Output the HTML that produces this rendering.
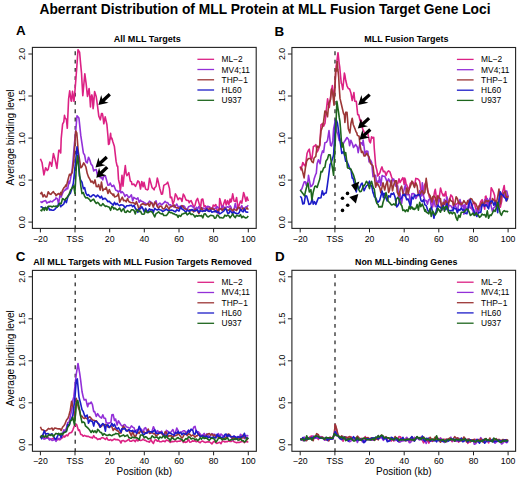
<!DOCTYPE html>
<html><head><meta charset="utf-8"><style>
html,body{margin:0;padding:0;background:#fff;}
body{width:520px;height:477px;overflow:hidden;}
svg{display:block;}
text{font-family:"Liberation Sans",sans-serif;fill:#000;}
.b{font-weight:bold;}
</style></head><body>
<svg width="520" height="477" viewBox="0 0 520 477">
<rect x="0" y="0" width="520" height="477" fill="#fff"/>
<text class="b" x="39.5" y="13.8" font-size="13.8" textLength="451" lengthAdjust="spacingAndGlyphs">Aberrant Distribution of MLL Protein at MLL Fusion Target Gene Loci</text>

<text class="b" x="113.8" y="41.5" font-size="9" textLength="67" lengthAdjust="spacingAndGlyphs">All MLL Targets</text>
<text class="b" x="16.0" y="35.0" font-size="13.4">A</text>
<line x1="75.2" y1="229.05" x2="75.2" y2="47.4" stroke="#1a1a1a" stroke-width="1.2" stroke-dasharray="3.8 4.48"/>
<polyline points="40.4,158.7 42.1,162.8 43.0,169.0 43.9,174.9 45.6,167.8 47.3,170.5 48.2,169.3 49.8,162.1 50.8,163.3 51.7,166.2 53.4,153.5 55.0,159.2 56.0,164.0 56.9,168.4 58.8,150.2 59.9,150.4 60.7,152.9 61.2,138.7 62.6,124.1 63.8,121.8 64.5,115.3 65.1,118.0 66.4,119.4 67.3,128.3 68.6,99.0 69.7,90.9 70.3,94.9 71.1,101.0 71.6,101.1 72.5,91.3 74.0,101.3 75.2,88.0 76.8,67.2 78.0,49.8 79.6,52.2 80.7,64.6 81.5,72.8 82.0,82.1 82.8,95.6 84.8,73.7 86.1,83.3 87.5,96.4 88.5,91.5 89.1,88.5 89.8,96.8 90.5,106.9 91.1,96.9 91.9,94.9 92.4,97.4 93.1,108.7 93.7,103.8 94.6,91.6 96.2,96.5 97.6,106.5 98.8,116.1 100.3,119.8 101.5,113.6 102.3,113.5 102.8,115.7 103.8,123.8 105.2,116.9 106.9,124.5 108.0,136.8 108.5,144.5 109.3,143.8 110.6,133.3 111.1,138.8 111.9,138.2 112.8,141.5 114.4,146.6 116.1,161.4 117.1,166.0 117.7,166.0 118.5,179.4 119.7,184.6 120.3,190.7 121.0,186.0 122.0,175.4 123.0,186.1 123.6,179.6 125.3,165.5 126.2,173.7 127.0,175.6 128.8,172.6 130.3,181.1 131.4,181.7 132.0,184.5 132.7,184.5 133.8,184.0 135.5,186.4 136.6,184.0 137.9,180.9 139.2,182.1 140.5,189.0 141.8,181.5 143.1,186.8 144.0,182.3 145.6,189.1 147.3,189.9 148.2,189.1 149.5,178.3 150.6,182.1 152.1,187.6 153.4,188.8 154.1,189.8 154.7,187.8 156.0,186.5 157.3,178.0 158.2,181.5 159.9,188.9 161.5,194.2 162.5,194.0 163.8,185.4 165.0,184.6 166.4,183.9 167.7,182.1 169.5,188.6 170.3,197.8 171.6,197.2 172.9,204.2 174.2,200.4 175.4,193.9 176.8,196.2 178.1,199.7 179.4,198.0 180.0,198.5 180.7,198.3 182.0,201.4 183.3,194.1 184.5,196.0 185.9,199.7 187.2,200.5 188.5,200.5 189.2,202.8 189.8,201.7 191.1,200.6 192.4,203.6 193.7,207.3 195.0,205.4 196.2,200.7 197.6,198.4 198.9,202.9 200.2,207.6 200.8,205.9 201.5,199.5 202.8,199.0 204.1,206.6 205.4,205.8 206.7,210.3 207.8,206.5 209.3,206.8 210.6,207.9 212.3,209.2 213.2,205.1 214.5,206.0 215.8,204.5 217.1,210.2 218.4,213.6 219.2,208.8 219.7,198.5 221.0,203.1 222.3,209.3 223.6,203.9 225.1,199.8 226.2,205.0 227.5,200.5 228.8,204.7 230.1,199.0 230.8,202.1 231.4,201.2 232.7,193.9 234.0,200.9 235.5,201.4 236.6,197.5 237.9,207.1 238.9,205.8 240.5,201.0 241.8,203.2 243.1,195.6 243.6,192.5 244.4,195.0 245.9,201.3 247.0,197.1 248.3,200.9" fill="none" stroke="#dc2184" stroke-width="1.6" stroke-linejoin="round"/>
<polyline points="40.4,201.3 41.7,202.5 43.0,201.5 44.3,201.0 45.6,200.5 46.9,203.1 48.2,202.1 49.5,202.1 50.4,201.1 52.1,201.9 53.4,200.7 54.7,199.6 55.5,199.2 56.0,197.9 57.3,198.6 58.6,203.8 59.9,195.6 60.7,196.1 61.2,197.1 62.5,193.4 63.8,191.2 65.1,189.9 65.7,190.0 66.4,188.1 67.7,188.9 69.0,181.2 69.5,183.4 70.3,179.9 71.6,173.2 72.1,170.6 72.9,162.0 74.5,143.0 75.5,133.6 77.0,115.7 78.1,117.0 78.9,118.0 79.4,122.3 80.8,135.7 82.0,143.6 83.4,153.1 84.6,155.0 85.9,161.9 87.2,163.0 88.5,157.2 89.8,160.1 91.0,164.1 92.4,165.6 93.7,171.0 94.8,169.9 96.3,169.6 97.6,176.1 98.6,172.1 100.2,177.6 101.5,177.5 102.8,179.8 103.6,176.3 105.4,176.1 106.2,178.8 108.0,185.3 109.3,184.9 110.2,183.0 111.9,186.5 113.2,185.7 113.7,185.2 114.5,187.1 115.8,190.2 117.0,190.6 118.4,192.1 119.7,190.5 121.0,192.9 122.0,191.6 123.6,193.3 124.9,196.4 126.2,194.8 127.0,194.9 128.8,197.7 130.1,196.6 131.4,194.8 132.7,200.9 133.8,197.4 135.3,198.4 136.6,199.1 137.9,197.9 139.2,202.3 140.5,200.2 141.4,201.2 143.1,201.8 144.3,202.7 145.6,203.5 146.9,204.4 148.2,203.2 148.9,202.3 149.5,201.1 150.8,202.1 152.1,202.9 153.4,205.1 154.7,203.7 156.0,200.8 157.3,206.3 158.6,204.2 159.9,203.1 161.7,205.0 162.5,204.1 163.8,202.9 165.1,201.3 166.4,202.7 167.7,202.6 169.0,204.9 170.3,204.7 171.6,205.8 172.9,206.0 174.2,207.3 175.5,205.8 176.8,204.1 178.1,206.7 179.0,206.9 180.7,206.0 182.0,206.9 183.3,205.7 184.6,206.5 185.9,209.3 187.2,209.7 188.5,206.7 189.8,206.2 191.1,205.5 192.4,206.8 193.7,207.3 195.0,210.4 196.3,207.3 197.6,208.8 198.9,206.5 200.2,209.4 201.5,209.5 202.8,207.9 204.1,208.5 205.4,209.2 206.7,206.7 208.0,206.4 209.3,206.9 210.6,208.3 211.9,209.4 213.6,208.2 214.5,208.9 215.8,208.1 217.1,206.6 218.4,207.8 219.7,209.2 221.0,209.2 222.3,206.0 223.6,207.0 224.9,207.4 226.2,207.3 227.5,206.7 228.8,207.4 230.1,205.8 231.0,207.2 232.7,212.4 234.0,209.5 235.3,203.5 236.6,209.3 237.9,208.8 239.6,208.0 240.5,207.9 241.8,205.7 243.1,209.1 244.8,207.9 245.7,207.0 247.0,206.5 248.3,205.2" fill="none" stroke="#9330d8" stroke-width="1.6" stroke-linejoin="round"/>
<polyline points="40.4,194.3 41.7,192.3 43.0,196.9 44.3,194.7 45.6,196.9 46.9,196.9 48.2,191.8 49.5,193.7 50.8,194.4 52.1,192.8 53.4,191.6 54.7,193.8 55.5,193.9 56.0,195.8 57.3,194.5 58.6,193.5 59.9,194.7 60.7,192.4 61.2,194.9 62.5,190.3 63.8,187.9 65.1,186.7 65.7,185.1 66.4,186.1 67.7,180.8 69.0,175.9 69.5,174.3 70.3,175.3 71.6,173.2 72.1,172.9 72.9,167.4 73.8,161.2 75.7,131.0 76.8,132.8 78.2,151.1 79.4,158.8 80.8,167.8 82.0,166.7 83.7,162.9 84.6,164.3 85.9,167.0 87.2,173.3 88.5,177.0 89.8,179.2 91.1,182.1 92.2,181.2 93.7,183.5 95.0,179.9 96.3,186.5 97.6,186.8 98.6,184.5 100.2,190.1 101.5,182.0 102.8,190.7 104.1,189.1 105.4,189.3 106.2,187.3 108.0,193.4 109.3,189.6 110.6,192.9 111.9,193.7 113.2,195.5 113.7,194.0 114.5,196.9 115.8,196.5 117.1,195.9 118.4,193.6 119.7,202.2 121.3,198.8 122.3,197.1 123.6,200.6 124.9,200.3 126.2,201.8 127.5,198.6 128.8,201.5 130.1,202.4 131.4,202.7 132.7,202.8 134.0,202.9 135.3,204.4 136.4,201.6 137.9,205.6 139.2,210.8 140.5,205.4 141.8,204.2 143.1,203.5 144.3,204.6 145.6,205.0 146.9,204.4 148.2,203.3 148.9,205.4 149.5,206.2 150.8,202.2 152.1,203.7 153.4,207.1 154.7,202.1 156.0,203.4 157.3,206.5 158.6,208.2 159.9,206.0 161.7,206.6 162.5,208.4 163.8,209.0 165.1,207.9 166.4,204.9 167.7,207.0 169.0,209.5 170.3,206.5 171.6,206.7 172.9,205.8 174.2,205.0 175.5,207.3 176.8,207.9 178.1,207.9 179.0,208.5 180.7,207.3 182.0,205.6 183.3,207.4 184.6,208.7 185.9,209.0 187.2,210.0 188.5,210.4 189.8,209.8 191.1,210.5 192.4,210.2 193.7,211.9 195.0,209.4 196.3,209.4 197.6,211.3 198.9,213.6 200.2,210.4 201.5,207.7 202.8,210.2 204.1,210.6 205.4,210.6 206.7,208.7 208.0,210.7 209.3,208.3 210.6,209.6 211.9,208.1 213.6,209.3 214.5,209.8 215.8,211.9 217.1,211.2 218.4,210.2 219.7,208.5 221.0,208.8 222.3,210.5 223.6,209.1 224.9,207.8 226.2,209.3 227.5,210.2 228.8,210.3 230.1,208.4 231.0,209.1 232.7,210.7 234.0,209.1 235.3,209.9 236.6,210.6 237.9,207.5 239.2,207.3 240.5,209.9 241.8,209.1 243.1,208.1 244.4,209.7 245.7,209.2 247.0,207.7 248.3,209.6" fill="none" stroke="#9c3636" stroke-width="1.6" stroke-linejoin="round"/>
<polyline points="40.4,207.0 41.7,206.7 43.0,208.3 44.3,207.9 45.6,208.2 46.9,208.0 48.2,206.8 49.5,209.9 50.8,209.6 52.1,210.2 53.4,210.3 54.7,209.3 55.5,208.6 56.0,207.8 57.3,206.9 58.6,203.8 59.9,204.5 60.7,206.8 61.2,205.9 62.5,205.2 63.8,204.0 65.1,199.9 65.7,201.0 66.4,202.6 67.7,197.4 69.0,194.9 69.5,194.3 70.3,193.4 71.6,189.5 73.3,183.5 74.2,175.1 75.4,163.3 77.0,146.9 78.0,153.2 79.4,176.0 80.7,180.2 82.0,182.2 83.4,188.8 84.6,187.5 85.9,193.2 87.2,195.4 88.4,194.6 89.8,196.4 91.1,196.7 92.4,195.2 93.7,194.7 95.0,196.0 96.0,197.0 97.6,195.1 98.9,196.3 100.2,198.0 101.5,196.2 102.8,199.4 103.6,198.6 105.4,198.4 106.7,200.0 108.0,201.8 109.3,201.3 110.6,203.0 111.4,203.2 113.2,205.2 114.5,202.3 115.8,204.7 117.1,203.3 118.4,204.9 119.7,205.7 121.0,204.7 122.3,205.0 123.6,205.5 124.9,207.9 126.2,206.4 127.0,205.7 128.8,205.6 130.1,205.4 131.4,205.0 132.7,206.7 134.0,205.3 135.7,209.1 136.6,209.5 137.9,212.3 139.2,208.6 140.5,208.6 141.8,206.7 143.1,209.0 144.3,212.0 145.6,208.3 146.9,210.7 148.2,211.6 148.9,209.7 149.5,208.8 150.8,210.1 152.1,209.6 153.4,212.2 154.7,208.2 156.0,209.5 157.3,209.9 158.6,209.3 159.9,209.8 161.7,210.2 162.5,211.5 163.8,210.9 165.1,210.0 166.4,209.1 167.7,210.4 169.0,210.6 170.3,210.3 171.6,210.0 172.9,210.4 174.2,211.2 175.5,211.7 176.8,209.8 178.1,210.4 179.0,211.1 180.7,206.8 182.0,209.0 183.3,209.8 184.6,210.7 185.9,212.4 187.2,210.1 188.5,210.9 189.8,211.1 191.1,209.9 192.4,209.6 193.7,210.5 195.0,211.1 196.3,210.2 197.6,209.9 198.9,212.4 200.2,210.7 201.5,211.0 202.8,211.4 204.1,210.7 205.4,211.1 206.7,209.1 208.0,210.9 209.3,211.4 210.6,210.3 211.9,212.3 213.6,211.6 214.5,211.8 215.8,210.6 217.1,212.7 218.4,211.8 219.7,213.9 221.0,213.1 222.3,212.1 223.6,211.4 224.9,209.4 226.2,209.1 227.5,213.1 228.8,213.4 230.1,210.7 231.0,211.7 232.7,213.6 234.0,211.8 235.3,213.3 236.6,213.4 237.9,213.8 239.2,212.7 240.5,209.3 241.8,210.9 243.1,212.0 244.4,208.9 245.7,211.8 247.0,212.3 248.3,212.1" fill="none" stroke="#1c1cc8" stroke-width="1.6" stroke-linejoin="round"/>
<polyline points="40.4,210.0 41.7,210.8 43.0,207.7 44.3,210.5 45.6,207.3 46.9,210.2 48.2,206.2 49.5,206.3 50.8,206.3 52.1,207.0 53.4,206.1 54.7,206.5 55.5,206.5 56.0,205.9 57.3,207.0 58.6,205.6 59.9,203.1 60.7,203.5 61.2,203.7 62.5,198.5 63.8,199.5 65.1,200.1 65.7,198.6 66.4,198.3 67.7,196.5 69.0,194.4 70.7,189.7 71.6,188.8 72.9,187.1 73.7,185.9 74.2,189.0 74.9,193.5 75.5,182.8 76.4,165.4 77.5,155.9 78.1,161.3 78.9,168.2 79.4,172.6 80.8,186.0 82.0,193.6 83.3,192.5 84.6,196.3 85.9,198.0 87.2,197.6 88.5,198.7 89.8,199.8 90.6,201.3 92.4,199.8 93.7,199.2 95.0,201.8 96.3,203.5 97.6,202.3 98.6,203.3 100.2,205.5 101.5,205.6 102.8,203.6 104.1,205.2 105.4,206.4 106.2,206.1 108.0,206.7 109.3,207.2 110.6,210.3 111.9,206.3 113.2,207.6 113.7,209.0 114.5,208.0 115.8,208.8 117.1,210.0 118.4,209.4 119.7,208.1 121.3,211.5 122.3,209.8 123.6,208.6 124.9,212.2 126.2,212.4 127.5,210.5 128.8,211.8 130.1,212.2 131.4,209.8 132.7,209.8 134.0,210.5 135.3,213.9 136.6,209.5 137.9,210.5 139.2,211.6 140.5,211.2 141.8,214.0 143.1,214.3 144.3,214.0 145.6,210.0 146.9,212.4 148.2,212.6 148.9,212.2 149.5,211.5 150.8,211.5 152.1,212.0 153.4,214.1 154.7,216.9 156.0,213.7 157.3,212.8 158.6,211.8 159.9,213.2 161.7,214.0 162.5,213.4 163.8,215.5 165.1,215.5 166.4,215.4 167.7,213.9 169.0,211.6 170.3,212.6 171.6,212.6 172.9,213.6 174.2,213.9 175.5,214.8 176.8,214.9 178.1,217.3 179.0,215.3 180.7,216.4 182.0,214.1 183.3,213.8 184.6,213.3 185.9,212.8 187.2,214.8 188.5,213.9 189.8,212.6 191.1,214.6 192.4,214.0 193.7,215.1 195.0,217.1 196.3,215.5 197.6,216.3 198.9,215.6 200.2,216.0 201.5,215.4 202.8,217.9 204.1,214.1 205.4,213.8 206.7,215.9 208.0,217.0 209.3,216.2 210.6,215.3 211.9,215.5 213.6,216.0 214.5,218.2 215.8,218.0 217.1,215.1 218.4,215.6 219.7,217.8 221.0,217.6 222.3,218.0 223.6,217.7 224.9,215.2 226.2,216.1 227.5,215.1 228.8,215.7 230.1,217.8 231.0,216.6 232.7,213.9 234.0,216.4 235.3,217.6 236.6,215.2 237.9,215.8 239.2,216.2 240.5,214.6 241.8,217.7 243.1,216.2 244.4,217.3 245.7,218.0 247.0,217.5 248.3,215.9" fill="none" stroke="#1d661d" stroke-width="1.6" stroke-linejoin="round"/>
<rect x="32.4" y="47.4" width="223.8" height="181.0" fill="none" stroke="#222" stroke-width="1.1"/>
<line x1="28.4" y1="222.1" x2="32.4" y2="222.1" stroke="#222" stroke-width="1"/>
<text transform="translate(25.1,222.1) rotate(-90)" text-anchor="middle" font-size="8.7">0.0</text>
<line x1="28.4" y1="180.1" x2="32.4" y2="180.1" stroke="#222" stroke-width="1"/>
<text transform="translate(25.1,180.1) rotate(-90)" text-anchor="middle" font-size="8.7">0.5</text>
<line x1="28.4" y1="138.1" x2="32.4" y2="138.1" stroke="#222" stroke-width="1"/>
<text transform="translate(25.1,138.1) rotate(-90)" text-anchor="middle" font-size="8.7">1.0</text>
<line x1="28.4" y1="96.0" x2="32.4" y2="96.0" stroke="#222" stroke-width="1"/>
<text transform="translate(25.1,96.0) rotate(-90)" text-anchor="middle" font-size="8.7">1.5</text>
<line x1="28.4" y1="54.0" x2="32.4" y2="54.0" stroke="#222" stroke-width="1"/>
<text transform="translate(25.1,54.0) rotate(-90)" text-anchor="middle" font-size="8.7">2.0</text>
<line x1="40.4" y1="228.4" x2="40.4" y2="232.4" stroke="#222" stroke-width="1"/>
<text x="40.4" y="241.5" text-anchor="middle" font-size="8.7">−20</text>
<line x1="75.0" y1="228.4" x2="75.0" y2="232.4" stroke="#222" stroke-width="1"/>
<text x="75.0" y="241.5" text-anchor="middle" font-size="8.7">TSS</text>
<line x1="109.7" y1="228.4" x2="109.7" y2="232.4" stroke="#222" stroke-width="1"/>
<text x="109.7" y="241.5" text-anchor="middle" font-size="8.7">20</text>
<line x1="144.3" y1="228.4" x2="144.3" y2="232.4" stroke="#222" stroke-width="1"/>
<text x="144.3" y="241.5" text-anchor="middle" font-size="8.7">40</text>
<line x1="179.0" y1="228.4" x2="179.0" y2="232.4" stroke="#222" stroke-width="1"/>
<text x="179.0" y="241.5" text-anchor="middle" font-size="8.7">60</text>
<line x1="213.6" y1="228.4" x2="213.6" y2="232.4" stroke="#222" stroke-width="1"/>
<text x="213.6" y="241.5" text-anchor="middle" font-size="8.7">80</text>
<line x1="248.3" y1="228.4" x2="248.3" y2="232.4" stroke="#222" stroke-width="1"/>
<text x="248.3" y="241.5" text-anchor="middle" font-size="8.7">100</text>
<line x1="197.4" y1="59.3" x2="214.1" y2="59.3" stroke="#dc2184" stroke-width="1.3"/>
<text x="221.6" y="62.2" font-size="8.4">ML−2</text>
<line x1="197.4" y1="69.5" x2="214.1" y2="69.5" stroke="#9330d8" stroke-width="1.3"/>
<text x="221.6" y="72.5" font-size="8.4">MV4;11</text>
<line x1="197.4" y1="79.8" x2="214.1" y2="79.8" stroke="#9c3636" stroke-width="1.3"/>
<text x="221.6" y="82.7" font-size="8.4">THP−1</text>
<line x1="197.4" y1="90.0" x2="214.1" y2="90.0" stroke="#1c1cc8" stroke-width="1.3"/>
<text x="221.6" y="93.0" font-size="8.4">HL60</text>
<line x1="197.4" y1="100.3" x2="214.1" y2="100.3" stroke="#1d661d" stroke-width="1.3"/>
<text x="221.6" y="103.2" font-size="8.4">U937</text>
<text transform="translate(14.4,137.4) rotate(-90)" text-anchor="middle" font-size="10" textLength="96" lengthAdjust="spacingAndGlyphs">Average binding level</text>
<text class="b" x="364.2" y="41.5" font-size="9" textLength="84.3" lengthAdjust="spacingAndGlyphs">MLL Fusion Targets</text>
<text class="b" x="274.5" y="35.5" font-size="13.4">B</text>
<line x1="335.0" y1="229.05" x2="335.0" y2="47.5" stroke="#1a1a1a" stroke-width="1.2" stroke-dasharray="3.8 4.48"/>
<polyline points="300.2,166.5 301.1,169.9 302.8,162.5 304.5,165.5 305.4,166.0 307.1,153.2 308.3,150.5 309.3,149.1 310.9,159.4 311.9,159.0 313.4,146.4 314.9,145.8 315.8,144.7 317.2,151.9 318.4,149.6 319.8,145.5 321.0,124.9 322.2,123.7 323.6,126.2 325.0,123.1 326.2,111.0 327.6,98.9 328.8,105.7 329.3,107.4 330.1,100.9 331.2,92.1 332.4,85.5 334.0,99.9 335.3,80.7 336.1,66.4 336.6,63.7 338.0,52.7 339.2,63.5 339.7,66.8 340.5,75.5 341.3,83.4 341.8,84.1 342.8,89.5 344.4,73.1 344.9,75.2 345.7,80.3 347.0,85.8 348.3,88.5 349.6,89.1 350.9,92.9 352.2,100.5 353.9,92.6 354.8,101.1 356.3,101.4 357.7,114.6 358.7,114.8 360.1,120.8 361.3,120.4 362.6,128.9 364.1,131.8 365.2,133.6 366.9,131.7 367.8,133.3 369.5,141.6 370.4,142.9 371.6,136.7 373.0,138.1 373.7,137.3 374.3,148.7 375.7,165.7 376.9,170.4 377.8,176.0 379.9,172.8 380.8,169.6 382.0,166.9 383.4,171.7 384.1,171.2 384.7,171.2 386.1,175.4 387.3,172.1 388.6,170.9 389.9,171.8 391.5,176.8 392.5,179.2 393.8,180.4 394.6,181.8 396.4,183.3 397.7,183.9 399.0,178.7 400.0,182.6 401.9,179.1 402.9,177.6 404.2,184.5 404.7,178.0 405.4,179.9 406.1,184.1 406.7,184.8 408.1,189.1 409.3,187.9 410.4,183.2 411.9,182.6 412.6,181.8 413.2,182.7 414.5,186.4 415.8,178.4 417.3,178.8 418.4,179.4 419.7,181.2 420.8,189.6 422.3,194.9 423.6,191.8 424.2,186.1 424.9,184.4 426.2,181.2 427.7,189.5 428.8,194.8 430.0,199.1 431.4,198.5 432.7,207.0 434.0,195.1 434.6,191.7 435.3,189.3 436.6,199.6 437.9,200.5 439.1,198.7 440.5,188.0 441.8,192.5 443.1,195.8 443.8,194.3 444.4,196.0 445.7,191.6 447.0,201.3 448.5,203.1 449.6,199.4 450.9,194.9 452.2,196.5 453.0,199.4 453.5,207.0 454.8,205.3 456.1,204.5 457.7,203.2 458.7,201.4 460.0,204.7 461.3,202.5 462.4,205.4 463.9,206.4 465.2,204.9 466.9,204.0 467.8,201.7 469.1,206.6 470.4,207.5 471.5,208.6 473.0,203.4 474.3,202.2 475.6,208.3 476.2,209.8 476.9,212.9 478.2,207.7 479.5,205.0 480.7,201.8 482.1,199.6 483.4,203.4 484.7,209.2 485.4,196.6 486.0,196.0 487.3,205.3 488.6,200.9 490.1,203.2 491.2,187.7 492.5,190.1 493.8,192.9 494.6,195.4 495.1,205.4 496.4,201.6 497.7,207.5 499.3,204.4 500.3,207.2 501.6,201.6 502.7,191.6 504.2,185.5 505.5,197.8 507.2,198.0 508.1,195.3" fill="none" stroke="#dc2184" stroke-width="1.6" stroke-linejoin="round"/>
<polyline points="300.2,190.8 301.9,188.7 302.8,186.1 304.2,181.9 305.4,181.9 306.3,185.4 308.0,180.8 308.5,175.3 309.3,179.9 310.6,186.6 311.5,186.3 313.2,183.8 314.1,179.1 315.8,174.1 316.3,173.4 317.1,163.7 318.4,159.7 320.1,163.6 321.0,156.2 322.5,150.9 323.6,152.4 324.9,142.7 326.4,142.3 327.5,140.4 329.0,130.6 330.5,145.1 331.4,146.0 332.8,140.9 333.6,128.8 335.4,120.2 336.9,132.0 337.9,134.2 339.2,140.5 340.5,139.1 341.8,142.9 343.1,144.1 344.4,141.5 345.2,140.5 347.0,137.5 348.7,139.7 349.6,145.7 350.9,140.2 352.2,143.3 353.5,147.4 354.8,145.8 355.6,144.5 357.4,147.3 358.2,152.6 360.0,142.9 361.3,142.7 362.6,145.1 363.1,140.0 363.9,145.6 365.2,155.3 366.4,151.0 367.8,151.2 369.1,161.9 370.5,160.1 371.7,162.5 373.0,176.6 374.7,175.6 375.6,175.4 376.9,185.5 378.2,180.8 378.9,182.1 379.5,176.8 380.8,185.7 382.1,175.5 383.0,176.1 384.7,176.2 386.0,179.1 387.2,182.5 388.6,178.9 389.9,181.7 391.5,183.9 392.5,179.2 393.8,179.1 395.5,185.8 396.4,186.6 397.7,185.8 399.0,201.5 400.0,193.1 401.6,203.5 402.9,195.0 404.2,189.0 405.4,184.9 406.7,194.6 407.6,194.6 409.3,194.6 410.6,204.1 411.9,193.7 413.2,193.5 414.5,194.2 415.8,198.5 417.1,196.2 418.4,195.2 419.7,190.6 421.5,195.9 422.3,182.7 423.6,196.3 424.9,200.6 426.2,200.6 427.5,204.2 428.4,200.1 430.1,198.7 431.4,207.3 432.7,204.6 434.0,200.2 435.3,206.6 436.6,206.0 437.9,206.1 439.2,197.6 440.5,202.2 442.3,206.4 443.1,208.0 444.4,199.2 445.7,205.1 447.0,197.0 448.3,208.0 449.2,205.1 450.9,205.9 452.2,208.0 453.5,207.2 454.8,204.1 456.1,207.5 457.4,212.0 458.7,202.7 460.0,199.5 461.3,206.6 463.1,205.1 463.9,214.1 465.2,204.2 466.5,209.7 467.8,209.3 469.1,199.6 470.0,207.8 471.7,208.2 473.0,211.1 474.3,214.9 475.6,213.5 476.9,208.6 478.2,211.8 479.5,210.0 480.8,204.1 482.1,205.2 483.8,206.1 484.7,199.9 486.0,202.2 487.3,198.6 488.6,206.2 489.9,198.3 490.8,204.7 492.5,211.6 493.8,207.6 495.1,206.7 496.4,204.9 497.7,206.7 499.0,200.5 500.3,192.8 501.6,196.5 502.9,194.2 504.2,196.1 505.5,191.0 506.8,191.1 508.1,197.0" fill="none" stroke="#9330d8" stroke-width="1.6" stroke-linejoin="round"/>
<polyline points="300.2,167.1 301.9,168.8 302.8,172.4 304.1,177.9 305.4,167.8 306.7,161.2 308.0,159.0 308.9,158.5 310.6,158.5 311.9,161.7 313.2,162.7 314.1,158.0 315.8,156.4 317.1,146.1 318.4,147.6 319.7,145.0 321.0,130.9 322.3,127.2 323.6,121.4 324.9,111.1 326.0,111.6 327.5,116.8 328.8,103.5 330.5,99.7 331.4,89.0 332.6,92.2 334.0,105.1 335.7,69.0 336.6,71.0 337.3,61.6 337.9,69.7 338.7,77.1 339.2,86.7 340.0,98.4 341.6,105.3 343.5,113.4 344.4,115.0 344.9,122.5 345.7,112.4 347.0,112.2 348.3,128.8 349.9,132.9 350.9,123.8 352.2,118.2 353.2,124.5 354.9,128.6 356.1,132.0 356.7,132.5 357.4,135.4 359.1,136.2 360.0,145.0 361.5,152.5 362.6,151.3 364.1,156.0 365.2,155.9 366.9,153.2 367.8,155.1 369.1,157.0 370.5,163.6 371.7,164.5 373.0,166.1 373.7,171.8 374.3,175.8 375.6,187.2 376.8,182.7 378.2,184.6 379.9,188.2 380.8,192.7 382.1,186.9 383.0,182.7 384.7,190.0 386.1,184.1 387.3,181.4 388.6,192.4 389.4,190.6 391.2,180.4 392.5,190.8 393.6,185.4 395.1,180.7 396.4,180.7 397.2,192.2 399.0,195.8 400.3,188.8 401.6,186.2 402.9,193.2 404.2,194.6 405.4,196.6 406.7,188.0 408.3,193.7 409.3,189.0 411.1,184.4 411.9,181.0 413.2,184.3 414.5,187.5 415.8,182.8 417.1,185.9 418.4,195.4 419.7,194.8 421.5,191.3 422.3,190.6 423.6,194.0 424.9,192.2 426.2,178.4 427.5,190.1 428.4,193.4 430.1,195.8 431.9,201.9 432.7,196.7 434.0,196.1 435.3,197.7 436.6,204.6 437.9,195.5 438.8,197.7 440.5,198.6 441.8,210.0 443.1,202.3 444.4,204.4 445.7,200.8 447.0,202.5 448.3,204.7 449.6,198.5 450.9,200.8 452.7,201.8 453.5,205.2 454.8,203.9 456.1,196.8 457.4,198.8 458.7,203.4 459.6,202.4 461.3,204.7 462.6,203.3 463.9,200.7 465.2,202.8 466.5,204.1 467.8,200.6 469.1,202.6 470.4,198.5 471.7,198.9 473.5,202.6 474.3,203.3 475.6,203.3 476.9,206.3 478.2,209.6 479.5,205.5 480.4,205.7 482.1,202.0 483.4,204.6 484.7,202.3 486.0,200.5 487.3,201.5 488.6,200.4 489.9,203.5 491.2,203.4 492.5,198.5 494.2,200.9 495.1,200.4 496.4,202.9 497.7,196.8 499.0,189.0 500.3,203.9 501.2,195.9 502.9,194.7 504.2,192.3 505.5,191.4 506.8,200.7 508.1,196.3" fill="none" stroke="#9c3636" stroke-width="1.6" stroke-linejoin="round"/>
<polyline points="300.2,196.3 301.5,197.8 302.8,204.0 304.1,203.5 305.4,195.9 306.7,196.1 308.0,200.8 308.9,204.4 310.6,203.7 312.3,198.8 313.2,204.1 314.5,201.7 315.8,204.5 317.1,201.1 318.4,197.7 319.8,198.1 321.0,197.7 322.3,190.7 323.6,195.1 324.9,193.2 326.2,192.9 327.2,186.3 328.8,174.5 330.1,164.2 331.0,163.3 332.7,158.1 333.6,154.6 335.7,119.3 336.6,120.7 337.4,122.9 339.2,134.9 339.9,140.5 340.5,143.8 341.8,153.5 343.5,151.6 344.4,154.9 345.7,161.3 346.6,160.9 348.3,164.5 349.9,169.3 350.9,169.5 352.2,178.1 353.0,178.1 354.8,185.3 356.3,191.9 357.4,185.3 358.7,189.0 360.0,187.0 361.3,183.8 362.1,183.1 362.6,185.0 364.1,190.7 365.2,188.2 366.4,185.8 367.8,184.9 369.5,181.2 370.4,185.7 371.6,185.4 373.0,192.6 373.7,194.2 374.3,196.6 375.7,197.9 376.9,200.5 377.8,202.3 379.5,200.7 380.9,196.1 382.1,191.1 383.4,197.6 384.1,193.4 384.7,193.8 386.0,197.9 387.2,200.9 388.6,195.7 390.3,197.1 391.2,193.5 392.5,194.2 393.6,192.9 395.1,197.3 396.7,206.9 397.7,205.8 399.0,203.1 400.0,199.4 401.6,198.0 402.9,194.8 404.2,195.2 404.7,194.2 405.4,195.4 406.7,199.8 408.0,198.9 409.2,202.1 410.4,206.6 411.9,197.0 413.2,198.9 413.9,197.2 414.5,195.0 415.8,195.8 417.1,195.2 418.5,194.5 419.7,194.8 421.0,200.6 422.3,201.6 423.0,200.8 423.6,199.6 424.9,204.9 426.2,205.6 427.5,209.5 428.8,212.2 430.0,210.0 431.4,207.0 432.7,212.5 434.0,218.2 434.6,214.3 435.3,214.4 436.6,209.3 437.9,205.0 439.1,206.9 440.5,207.2 441.8,210.1 443.1,205.6 444.4,209.8 446.1,209.4 447.0,203.4 448.3,210.8 449.6,210.5 450.9,210.8 452.2,210.1 453.0,211.0 453.5,207.4 454.8,208.7 456.1,208.6 457.4,212.8 458.7,209.3 459.9,210.3 461.3,207.9 462.6,210.4 463.9,209.6 465.2,213.3 466.9,213.8 467.8,209.7 469.1,203.5 470.3,199.9 471.7,205.1 473.0,208.3 473.8,209.9 474.3,212.5 475.6,214.6 476.9,216.5 478.5,212.6 479.5,212.4 480.8,212.5 482.1,204.7 483.2,204.1 484.7,206.3 486.0,204.5 487.7,207.3 488.6,208.8 489.9,202.4 491.2,201.2 492.3,200.9 493.8,205.2 495.1,202.2 496.8,207.8 497.7,212.6 499.0,199.8 500.3,191.8 501.5,194.4 502.9,195.1 504.2,197.3 505.5,198.3 506.2,200.9 506.8,199.2 508.1,198.4" fill="none" stroke="#1c1cc8" stroke-width="1.6" stroke-linejoin="round"/>
<polyline points="300.2,190.0 301.5,191.7 302.8,193.4 304.5,195.9 305.4,191.8 307.1,185.1 308.0,183.1 309.3,192.0 310.9,189.7 311.9,199.8 313.2,192.2 314.8,186.4 315.8,186.0 317.1,187.5 318.4,183.2 319.8,179.0 321.0,171.4 322.2,172.0 323.6,168.0 324.9,167.3 326.0,160.9 327.5,159.0 328.6,154.9 330.1,154.7 331.0,160.0 332.7,169.4 333.6,175.3 335.4,138.3 336.9,101.3 337.9,108.0 338.7,113.2 339.2,117.2 339.9,121.2 340.5,128.2 341.8,147.3 342.5,143.1 343.1,144.2 344.4,153.6 344.9,155.4 345.7,152.6 347.0,163.6 347.5,167.7 348.3,168.3 349.9,168.3 350.9,169.2 352.5,172.8 353.5,175.1 354.9,179.7 356.1,186.8 357.5,185.3 358.7,189.7 360.0,191.8 361.3,191.2 362.6,188.0 363.1,185.6 363.9,186.0 365.2,184.1 366.4,181.3 367.8,183.1 369.5,188.6 370.4,183.8 371.6,181.4 373.0,186.9 373.7,188.4 374.3,189.0 375.7,200.1 376.9,203.5 378.2,204.7 378.9,207.1 379.5,206.9 380.9,206.6 382.1,206.9 383.0,202.5 385.1,196.2 386.0,192.6 387.3,197.4 388.2,201.2 389.9,202.9 391.5,204.9 392.5,204.8 393.8,203.8 395.5,205.3 396.4,199.2 397.7,197.4 398.8,198.7 400.3,203.3 401.9,206.0 402.9,210.5 404.2,210.0 405.4,211.7 406.1,210.4 406.7,209.8 408.0,211.4 409.3,206.2 410.4,209.0 411.9,206.8 413.2,209.4 413.9,208.2 414.5,209.5 415.8,208.4 417.1,204.4 418.4,210.2 419.7,202.3 420.8,206.6 422.3,204.0 423.6,207.2 424.9,211.2 425.5,209.7 426.2,212.0 427.5,212.9 428.8,213.8 430.1,208.5 431.2,216.4 432.7,211.1 434.0,213.5 435.3,214.9 436.9,212.2 437.9,208.2 439.2,210.2 440.5,212.2 441.8,208.1 443.1,207.4 443.8,207.0 444.4,211.2 445.7,206.4 447.0,206.4 448.5,212.0 449.6,213.6 450.9,212.0 452.2,213.9 453.5,212.5 454.8,213.0 455.4,214.9 456.1,217.7 457.4,220.3 458.7,215.2 460.0,217.3 461.3,212.3 462.4,212.2 463.9,212.2 465.2,210.9 466.5,209.0 467.8,209.4 469.3,212.4 470.4,215.4 471.7,214.5 473.0,213.1 474.3,215.5 475.6,213.9 476.2,212.8 476.9,214.5 478.2,214.9 479.5,217.4 480.8,216.4 482.1,214.0 483.2,215.0 484.7,214.6 486.0,217.1 487.3,210.9 488.6,218.3 490.1,214.8 491.2,215.5 492.5,212.9 493.8,210.0 495.1,211.5 496.8,206.0 497.7,202.3 499.0,208.0 500.3,213.5 501.5,215.3 502.9,211.8 504.2,210.6 505.5,211.5 507.2,211.4 508.1,212.2" fill="none" stroke="#1d661d" stroke-width="1.6" stroke-linejoin="round"/>
<rect x="291.9" y="47.5" width="223.7" height="180.9" fill="none" stroke="#222" stroke-width="1.1"/>
<line x1="287.9" y1="222.1" x2="291.9" y2="222.1" stroke="#222" stroke-width="1"/>
<text transform="translate(284.6,222.1) rotate(-90)" text-anchor="middle" font-size="8.7">0.0</text>
<line x1="287.9" y1="180.1" x2="291.9" y2="180.1" stroke="#222" stroke-width="1"/>
<text transform="translate(284.6,180.1) rotate(-90)" text-anchor="middle" font-size="8.7">0.5</text>
<line x1="287.9" y1="138.1" x2="291.9" y2="138.1" stroke="#222" stroke-width="1"/>
<text transform="translate(284.6,138.1) rotate(-90)" text-anchor="middle" font-size="8.7">1.0</text>
<line x1="287.9" y1="96.0" x2="291.9" y2="96.0" stroke="#222" stroke-width="1"/>
<text transform="translate(284.6,96.0) rotate(-90)" text-anchor="middle" font-size="8.7">1.5</text>
<line x1="287.9" y1="54.0" x2="291.9" y2="54.0" stroke="#222" stroke-width="1"/>
<text transform="translate(284.6,54.0) rotate(-90)" text-anchor="middle" font-size="8.7">2.0</text>
<line x1="300.2" y1="228.4" x2="300.2" y2="232.4" stroke="#222" stroke-width="1"/>
<text x="300.2" y="241.5" text-anchor="middle" font-size="8.7">−20</text>
<line x1="334.9" y1="228.4" x2="334.9" y2="232.4" stroke="#222" stroke-width="1"/>
<text x="334.9" y="241.5" text-anchor="middle" font-size="8.7">TSS</text>
<line x1="369.5" y1="228.4" x2="369.5" y2="232.4" stroke="#222" stroke-width="1"/>
<text x="369.5" y="241.5" text-anchor="middle" font-size="8.7">20</text>
<line x1="404.2" y1="228.4" x2="404.2" y2="232.4" stroke="#222" stroke-width="1"/>
<text x="404.2" y="241.5" text-anchor="middle" font-size="8.7">40</text>
<line x1="438.8" y1="228.4" x2="438.8" y2="232.4" stroke="#222" stroke-width="1"/>
<text x="438.8" y="241.5" text-anchor="middle" font-size="8.7">60</text>
<line x1="473.5" y1="228.4" x2="473.5" y2="232.4" stroke="#222" stroke-width="1"/>
<text x="473.5" y="241.5" text-anchor="middle" font-size="8.7">80</text>
<line x1="508.1" y1="228.4" x2="508.1" y2="232.4" stroke="#222" stroke-width="1"/>
<text x="508.1" y="241.5" text-anchor="middle" font-size="8.7">100</text>
<line x1="456.9" y1="59.4" x2="473.6" y2="59.4" stroke="#dc2184" stroke-width="1.3"/>
<text x="481.1" y="62.3" font-size="8.4">ML−2</text>
<line x1="456.9" y1="69.7" x2="473.6" y2="69.7" stroke="#9330d8" stroke-width="1.3"/>
<text x="481.1" y="72.6" font-size="8.4">MV4;11</text>
<line x1="456.9" y1="79.9" x2="473.6" y2="79.9" stroke="#9c3636" stroke-width="1.3"/>
<text x="481.1" y="82.8" font-size="8.4">THP−1</text>
<line x1="456.9" y1="90.2" x2="473.6" y2="90.2" stroke="#1c1cc8" stroke-width="1.3"/>
<text x="481.1" y="93.1" font-size="8.4">HL60</text>
<line x1="456.9" y1="100.4" x2="473.6" y2="100.4" stroke="#1d661d" stroke-width="1.3"/>
<text x="481.1" y="103.3" font-size="8.4">U937</text>
<text class="b" x="33.3" y="265.0" font-size="9" textLength="218.5" lengthAdjust="spacingAndGlyphs">All MLL Targets with MLL Fusion Targets Removed</text>
<text class="b" x="15.8" y="261.0" font-size="13.4">C</text>
<line x1="75.2" y1="451.95" x2="75.2" y2="270.4" stroke="#1a1a1a" stroke-width="1.2" stroke-dasharray="3.8 4.48"/>
<polyline points="40.4,437.0 41.7,435.9 43.0,437.9 44.3,438.7 45.6,437.6 46.9,436.1 48.4,437.8 49.5,439.3 50.8,439.5 52.1,438.9 53.4,438.1 54.7,439.0 56.0,439.7 57.7,439.8 58.6,439.3 59.9,439.6 61.2,438.6 62.5,437.7 63.8,435.9 64.7,437.1 66.4,435.0 67.7,435.8 69.0,433.4 70.3,432.7 71.6,432.4 72.9,429.8 74.2,426.2 75.0,425.5 76.3,424.2 76.8,425.0 78.5,430.5 79.4,429.9 80.7,434.4 82.0,434.7 83.2,436.2 84.6,435.4 85.9,436.1 87.2,436.4 88.5,436.4 90.1,437.4 91.1,437.3 92.4,438.1 93.7,435.7 95.0,437.6 96.3,437.9 97.6,439.6 99.3,438.7 100.2,439.3 101.5,437.8 102.8,437.7 104.1,438.4 105.4,439.5 106.7,437.7 108.0,439.9 109.7,440.1 110.6,439.5 111.9,440.6 113.2,439.8 114.5,439.0 115.8,439.8 117.1,439.6 118.4,439.9 119.7,440.6 121.0,443.0 121.8,440.8 123.6,440.5 124.9,441.7 126.2,441.1 127.5,440.3 128.8,439.2 130.1,441.3 131.4,441.2 132.7,440.4 134.0,440.4 135.3,441.6 136.6,439.3 137.9,440.9 139.2,439.8 140.5,440.5 141.8,440.3 143.1,439.0 144.3,440.2 145.6,440.4 146.9,441.5 148.2,441.5 149.5,442.2 150.8,439.5 152.1,441.8 153.4,443.5 154.7,440.2 156.0,439.7 157.3,441.2 158.6,440.6 159.9,441.8 161.7,441.7 162.5,441.1 163.8,441.0 165.1,441.7 166.4,440.1 167.7,440.5 169.0,441.1 170.3,442.4 171.6,441.5 172.9,441.6 174.2,441.5 175.5,440.8 176.8,441.7 178.1,441.3 179.0,441.2 180.7,440.9 182.0,439.4 183.3,442.4 184.6,441.8 185.9,442.4 187.2,441.7 188.5,439.3 189.8,442.2 191.1,442.0 192.4,440.9 193.7,441.2 195.0,440.6 196.3,441.8 197.6,441.0 198.9,442.1 200.2,442.7 201.5,441.3 202.8,441.1 204.1,442.1 205.4,442.5 206.7,442.0 208.0,441.7 209.3,441.9 210.6,442.6 211.9,443.9 213.6,441.6 214.5,441.4 215.8,442.8 217.1,443.4 218.4,442.7 219.7,442.3 221.0,443.7 222.3,441.1 223.6,441.2 224.9,442.0 226.2,441.6 227.5,441.6 228.8,440.9 230.1,441.5 231.0,441.5 232.7,440.3 234.0,441.8 235.3,442.3 236.6,442.7 237.9,442.2 239.2,442.5 240.5,442.0 241.8,441.6 243.1,441.3 244.4,442.7 245.7,441.2 247.0,441.9 248.3,441.9" fill="none" stroke="#dc2184" stroke-width="1.6" stroke-linejoin="round"/>
<polyline points="40.4,435.7 41.7,437.4 43.0,434.5 43.9,439.0 45.6,438.6 46.9,437.9 48.4,438.3 49.5,440.0 50.8,438.8 52.1,440.5 53.0,440.2 54.7,439.4 56.0,441.4 57.7,438.3 58.6,438.6 59.9,439.6 61.2,435.8 62.4,434.1 63.8,429.9 65.1,430.7 66.4,428.2 66.9,425.9 67.7,422.6 69.0,422.4 70.4,415.9 71.6,410.6 72.9,399.9 73.8,396.9 75.5,381.2 76.3,373.8 76.8,370.8 78.0,363.5 79.7,373.4 80.7,380.7 82.0,391.5 83.3,397.3 84.2,400.0 85.9,399.4 87.2,405.3 87.7,406.8 88.5,403.4 89.8,403.6 91.2,402.1 92.4,404.5 93.7,411.7 94.6,411.5 96.3,416.5 97.6,413.7 99.3,416.3 100.2,417.1 101.5,418.1 102.8,414.8 104.1,418.2 105.4,418.2 106.2,422.7 108.0,423.1 109.3,423.1 110.9,422.3 111.9,414.9 113.2,414.6 114.5,420.5 115.6,419.0 117.1,425.1 118.4,420.8 120.1,423.5 121.0,425.0 122.3,426.1 123.6,425.1 124.9,424.6 126.2,426.6 127.0,427.0 128.8,427.8 130.1,428.1 131.4,425.9 132.7,427.1 134.0,427.8 135.3,431.6 136.6,430.0 137.9,429.5 139.2,429.9 140.9,429.0 141.8,429.7 143.1,432.7 144.3,428.5 145.6,427.6 146.9,430.9 147.8,430.2 149.5,431.9 150.8,433.2 152.1,431.0 153.4,426.7 154.7,429.5 156.0,433.1 157.3,430.6 158.6,431.6 159.9,432.6 161.7,431.2 162.5,434.7 163.8,435.9 165.1,435.4 166.4,430.3 167.7,431.2 169.0,433.1 170.3,432.7 171.6,431.3 172.9,429.6 174.2,433.3 175.5,432.5 176.8,428.1 178.1,430.6 179.0,433.1 180.7,432.1 182.0,432.0 183.3,430.7 184.6,430.8 185.9,432.4 187.7,431.5 188.5,430.1 189.8,431.4 191.1,429.8 192.9,429.5 193.7,427.2 195.0,426.3 196.3,431.9 198.1,431.7 198.9,432.4 200.2,434.0 201.5,435.7 202.8,435.0 204.1,433.4 205.4,436.9 206.7,433.8 208.0,435.0 209.3,437.0 210.6,435.4 211.9,433.6 213.6,434.6 214.5,434.2 215.8,435.3 217.1,436.0 218.4,433.5 219.7,436.4 221.0,434.0 222.3,435.2 223.6,435.8 224.9,436.0 226.2,436.0 227.5,435.6 228.8,435.5 230.1,435.7 231.0,436.7 232.7,440.1 234.0,436.1 235.3,436.8 236.6,437.2 237.9,436.6 239.6,437.0 240.5,434.2 241.8,435.8 243.1,436.9 244.4,438.6 245.7,435.8 247.0,435.4 248.3,436.2" fill="none" stroke="#9330d8" stroke-width="1.6" stroke-linejoin="round"/>
<polyline points="40.4,426.7 41.7,429.7 43.0,429.8 43.9,430.6 45.6,431.1 46.9,430.2 48.4,428.4 49.5,429.0 50.8,428.7 52.1,428.1 53.0,430.3 54.7,428.0 56.0,428.3 57.3,428.7 58.6,428.9 60.0,428.7 61.2,430.5 62.5,427.2 63.8,425.7 64.7,424.5 66.4,420.3 68.1,418.0 69.0,415.2 70.3,410.2 71.6,401.4 73.3,407.8 74.2,413.7 75.0,420.3 76.3,398.4 76.8,400.8 78.5,408.1 79.4,410.3 80.8,416.5 82.0,416.1 83.3,418.1 84.6,418.5 85.4,417.5 87.2,419.0 88.5,417.6 89.8,416.8 91.1,418.2 92.4,420.0 93.7,420.2 95.0,420.7 96.3,420.8 97.6,422.6 99.3,425.7 100.2,427.1 101.5,426.3 102.8,424.0 104.1,425.6 105.4,424.4 106.7,425.3 108.0,427.1 109.3,427.3 110.6,426.2 111.9,426.7 113.2,430.4 114.5,428.3 115.8,429.6 116.6,430.2 118.4,431.3 119.7,433.2 121.0,433.0 122.3,428.5 123.6,426.1 124.9,428.3 126.2,430.2 127.0,430.3 128.8,430.3 130.1,433.1 131.4,436.0 132.7,431.3 134.0,435.1 135.3,437.3 136.6,434.1 137.9,432.2 139.2,433.4 140.5,430.8 141.8,431.9 143.1,432.0 144.3,432.0 145.6,433.2 146.9,432.5 148.2,429.0 149.5,433.4 150.8,433.1 152.1,432.2 153.4,433.8 154.7,433.6 156.0,436.1 157.3,434.9 158.6,433.8 159.9,432.1 161.7,433.3 162.5,434.5 163.8,436.0 165.1,431.8 166.4,432.2 167.7,436.8 169.0,435.6 170.3,435.9 171.6,435.7 172.9,437.3 174.2,435.8 175.5,435.6 176.8,435.3 178.1,433.3 179.0,434.5 180.7,436.6 182.0,438.0 183.3,436.4 184.6,433.6 185.9,433.4 187.2,435.7 188.5,433.8 189.8,434.3 191.1,436.1 192.4,435.0 193.7,435.5 195.0,437.2 196.3,435.9 197.6,435.6 198.9,433.8 200.2,436.8 201.5,435.9 202.8,435.8 204.1,436.1 205.4,437.8 206.7,434.8 208.0,433.9 209.3,433.5 210.6,435.1 211.9,434.1 213.6,436.0 214.5,434.9 215.8,436.7 217.1,436.4 218.4,437.1 219.7,438.3 221.0,437.8 222.3,438.6 223.6,438.9 224.9,437.9 226.2,438.0 227.5,434.5 228.8,434.0 230.1,435.2 231.0,436.7 232.7,438.3 234.0,437.3 235.3,439.4 236.6,438.9 237.9,438.5 239.2,438.3 240.5,436.7 241.8,438.6 243.1,434.9 244.4,437.8 245.7,437.0 247.0,439.9 248.3,437.9" fill="none" stroke="#9c3636" stroke-width="1.6" stroke-linejoin="round"/>
<polyline points="40.4,436.2 41.7,438.8 43.0,434.6 44.3,430.8 45.6,434.1 46.9,433.8 48.2,433.5 49.1,435.3 50.8,434.4 52.1,433.8 53.4,435.9 54.7,438.5 56.0,439.2 57.7,435.9 58.6,434.4 59.9,434.4 61.2,437.5 62.5,434.2 63.8,432.2 64.7,432.0 66.4,431.4 67.7,424.4 69.3,425.0 70.3,421.4 71.6,418.3 72.8,415.5 74.2,404.2 75.0,396.8 76.3,380.3 76.8,379.8 77.3,378.9 78.1,387.4 79.0,397.1 80.7,403.8 82.0,409.6 83.3,411.7 84.6,415.7 85.4,416.7 87.2,415.0 88.5,423.3 90.1,419.7 91.1,421.1 92.4,421.4 93.7,426.1 94.6,421.8 96.3,421.3 97.6,422.8 99.3,424.3 100.2,427.2 101.5,425.0 102.8,423.6 104.1,424.6 105.4,431.1 106.2,425.3 108.0,424.9 109.3,427.6 110.6,426.1 111.9,423.4 113.2,426.2 114.5,424.2 115.8,427.5 117.1,429.1 118.4,427.7 119.7,429.8 121.0,432.2 121.8,428.9 123.6,429.0 124.9,428.3 126.2,431.0 127.5,431.1 128.8,429.5 130.5,430.8 131.4,431.2 132.7,430.4 134.0,432.1 135.3,430.8 136.6,433.5 137.9,430.9 139.2,426.2 140.9,430.5 141.8,431.9 143.1,434.6 144.3,434.4 145.6,432.8 146.9,433.3 148.2,431.4 149.5,431.6 151.3,431.7 152.1,432.3 153.4,431.1 154.7,429.8 156.0,433.5 157.3,433.3 158.6,433.1 159.9,433.1 161.7,432.4 162.5,433.2 163.8,434.9 165.1,435.9 166.4,436.5 167.7,434.3 169.0,432.2 170.3,433.3 172.1,434.3 172.9,434.5 174.2,435.4 175.5,432.6 176.8,433.3 178.1,431.4 179.0,433.3 180.7,432.4 182.0,434.9 183.3,433.1 184.6,433.8 185.9,434.4 187.2,433.1 188.5,430.3 189.4,432.5 191.1,429.2 192.9,430.6 193.7,433.9 195.0,434.2 196.3,430.6 198.1,434.1 198.9,434.8 200.2,436.3 201.5,436.3 202.8,435.6 204.1,436.8 205.4,436.6 206.7,435.9 208.0,437.8 209.3,437.1 210.6,437.5 211.9,437.5 213.6,436.9 214.5,437.6 215.8,437.9 217.1,434.3 218.4,436.3 219.7,436.3 221.0,437.9 222.3,437.1 224.0,437.0 224.9,434.6 226.2,434.0 227.5,437.1 228.8,434.7 230.1,436.4 231.0,436.6 232.7,436.8 234.0,436.1 235.3,437.0 236.6,439.1 237.9,436.8 239.6,437.3 240.5,437.4 241.8,436.8 243.1,436.3 244.4,433.3 245.7,437.7 247.0,438.2 248.3,437.7" fill="none" stroke="#1c1cc8" stroke-width="1.6" stroke-linejoin="round"/>
<polyline points="40.4,437.9 41.7,435.6 43.0,435.9 44.3,437.2 45.6,435.4 46.9,437.2 48.4,435.1 49.5,434.3 50.8,435.5 52.1,434.4 53.4,436.5 54.7,434.7 56.0,433.4 57.7,434.1 58.6,433.3 59.9,435.1 61.2,433.3 62.5,434.7 63.8,432.6 64.7,432.4 66.4,431.3 67.7,427.3 69.3,425.0 70.3,420.9 71.6,420.2 72.8,417.3 74.5,425.2 75.5,413.7 76.3,403.6 76.8,402.0 77.8,400.5 79.7,410.4 80.7,416.4 82.0,422.6 83.3,422.0 84.6,422.9 85.4,425.8 87.2,427.4 88.5,428.6 90.1,430.8 91.1,432.5 92.4,430.4 93.7,432.3 95.0,430.8 96.3,432.7 97.1,431.5 97.6,429.2 98.9,430.5 100.2,432.4 101.5,432.6 102.8,435.4 104.0,433.6 105.4,434.7 106.7,435.4 108.0,435.4 109.3,434.5 110.6,435.3 111.9,435.6 113.2,434.6 114.5,434.5 115.8,433.4 117.1,433.8 118.4,433.7 119.7,436.7 121.0,436.1 121.8,435.7 123.6,434.9 124.9,436.4 126.2,435.7 127.5,435.0 128.8,437.5 130.1,438.1 131.4,438.2 132.7,437.0 134.0,437.7 135.3,437.5 136.6,437.8 137.9,438.5 139.2,439.7 140.5,435.0 141.8,435.0 143.1,435.6 144.3,437.8 145.6,436.7 146.9,437.5 148.2,439.0 149.5,438.5 150.8,438.3 152.1,435.8 153.4,437.0 154.7,437.7 156.0,437.3 157.3,437.1 158.6,439.2 159.9,437.0 161.7,437.9 162.5,436.9 163.8,435.9 165.1,438.1 166.4,435.7 167.7,438.1 169.0,438.8 170.3,441.0 171.6,437.6 172.9,438.4 174.2,439.4 175.5,439.5 176.8,438.3 178.1,437.5 179.0,438.5 180.7,439.0 182.0,439.7 183.3,441.2 184.6,440.1 185.9,438.6 187.2,439.2 188.5,436.8 189.8,437.3 191.1,439.0 192.4,438.4 193.7,438.5 195.0,439.7 196.3,439.1 197.6,440.7 198.9,439.7 200.2,437.8 201.5,439.1 202.8,437.1 204.1,438.6 205.4,438.1 206.7,438.1 208.0,439.5 209.3,440.3 210.6,438.7 211.9,437.9 213.6,438.8 214.5,439.1 215.8,442.2 217.1,440.5 218.4,438.3 219.7,437.8 221.0,438.5 222.3,440.0 223.6,438.6 224.9,439.5 226.2,438.7 227.5,437.8 228.8,440.2 230.1,440.2 231.0,439.7 232.7,439.2 234.0,439.5 235.3,438.8 236.6,438.5 237.9,440.1 239.2,440.0 240.5,438.6 241.8,440.6 243.1,440.6 244.4,442.1 245.7,441.2 247.0,437.9 248.3,438.8" fill="none" stroke="#1d661d" stroke-width="1.6" stroke-linejoin="round"/>
<rect x="32.45" y="270.4" width="223.9" height="180.9" fill="none" stroke="#222" stroke-width="1.1"/>
<line x1="28.5" y1="444.8" x2="32.45" y2="444.8" stroke="#222" stroke-width="1"/>
<text transform="translate(25.2,444.8) rotate(-90)" text-anchor="middle" font-size="8.7">0.0</text>
<line x1="28.5" y1="402.8" x2="32.45" y2="402.8" stroke="#222" stroke-width="1"/>
<text transform="translate(25.2,402.8) rotate(-90)" text-anchor="middle" font-size="8.7">0.5</text>
<line x1="28.5" y1="360.8" x2="32.45" y2="360.8" stroke="#222" stroke-width="1"/>
<text transform="translate(25.2,360.8) rotate(-90)" text-anchor="middle" font-size="8.7">1.0</text>
<line x1="28.5" y1="318.8" x2="32.45" y2="318.8" stroke="#222" stroke-width="1"/>
<text transform="translate(25.2,318.8) rotate(-90)" text-anchor="middle" font-size="8.7">1.5</text>
<line x1="28.5" y1="276.8" x2="32.45" y2="276.8" stroke="#222" stroke-width="1"/>
<text transform="translate(25.2,276.8) rotate(-90)" text-anchor="middle" font-size="8.7">2.0</text>
<line x1="40.4" y1="451.3" x2="40.4" y2="455.3" stroke="#222" stroke-width="1"/>
<text x="40.4" y="464.4" text-anchor="middle" font-size="8.7">−20</text>
<line x1="75.0" y1="451.3" x2="75.0" y2="455.3" stroke="#222" stroke-width="1"/>
<text x="75.0" y="464.4" text-anchor="middle" font-size="8.7">TSS</text>
<line x1="109.7" y1="451.3" x2="109.7" y2="455.3" stroke="#222" stroke-width="1"/>
<text x="109.7" y="464.4" text-anchor="middle" font-size="8.7">20</text>
<line x1="144.3" y1="451.3" x2="144.3" y2="455.3" stroke="#222" stroke-width="1"/>
<text x="144.3" y="464.4" text-anchor="middle" font-size="8.7">40</text>
<line x1="179.0" y1="451.3" x2="179.0" y2="455.3" stroke="#222" stroke-width="1"/>
<text x="179.0" y="464.4" text-anchor="middle" font-size="8.7">60</text>
<line x1="213.6" y1="451.3" x2="213.6" y2="455.3" stroke="#222" stroke-width="1"/>
<text x="213.6" y="464.4" text-anchor="middle" font-size="8.7">80</text>
<line x1="248.3" y1="451.3" x2="248.3" y2="455.3" stroke="#222" stroke-width="1"/>
<text x="248.3" y="464.4" text-anchor="middle" font-size="8.7">100</text>
<line x1="197.4" y1="282.3" x2="214.1" y2="282.3" stroke="#dc2184" stroke-width="1.3"/>
<text x="221.6" y="285.2" font-size="8.4">ML−2</text>
<line x1="197.4" y1="292.5" x2="214.1" y2="292.5" stroke="#9330d8" stroke-width="1.3"/>
<text x="221.6" y="295.4" font-size="8.4">MV4;11</text>
<line x1="197.4" y1="302.8" x2="214.1" y2="302.8" stroke="#9c3636" stroke-width="1.3"/>
<text x="221.6" y="305.7" font-size="8.4">THP−1</text>
<line x1="197.4" y1="313.0" x2="214.1" y2="313.0" stroke="#1c1cc8" stroke-width="1.3"/>
<text x="221.6" y="315.9" font-size="8.4">HL60</text>
<line x1="197.4" y1="323.3" x2="214.1" y2="323.3" stroke="#1d661d" stroke-width="1.3"/>
<text x="221.6" y="326.2" font-size="8.4">U937</text>
<text transform="translate(14.4,358.2) rotate(-90)" text-anchor="middle" font-size="10" textLength="96" lengthAdjust="spacingAndGlyphs">Average binding level</text>
<text x="144.4" y="475.2" text-anchor="middle" font-size="10">Position (kb)</text>
<text class="b" x="355.0" y="265.0" font-size="9" textLength="102.5" lengthAdjust="spacingAndGlyphs">Non MLL-binding Genes</text>
<text class="b" x="275.0" y="261.1" font-size="13.4">D</text>
<line x1="335.0" y1="451.95" x2="335.0" y2="270.3" stroke="#1a1a1a" stroke-width="1.2" stroke-dasharray="3.8 4.48"/>
<polyline points="300.2,438.9 301.5,438.8 302.8,440.5 304.1,438.1 305.4,438.1 306.7,438.2 308.0,438.3 308.9,437.9 310.6,436.4 311.9,435.9 313.2,437.6 314.1,437.7 315.8,437.8 316.7,436.8 318.4,439.5 319.3,436.9 321.0,437.2 322.3,438.2 323.6,437.6 324.5,439.1 326.2,438.8 327.5,437.8 328.8,440.7 330.1,436.9 331.4,438.6 332.8,438.6 334.3,434.1 335.2,424.9 336.4,428.9 338.0,435.7 339.2,437.3 340.0,438.1 341.8,436.2 343.1,441.3 344.4,437.3 345.7,437.7 347.0,437.4 348.3,439.9 349.6,438.8 350.9,436.7 352.2,438.9 353.5,440.0 354.8,439.9 356.1,440.0 357.4,438.3 358.7,438.7 360.0,439.8 361.3,438.4 362.6,440.5 363.9,441.6 365.2,436.5 366.5,439.4 367.8,437.5 369.5,439.3 370.4,439.7 371.7,438.6 373.0,440.0 374.3,440.3 375.6,439.3 376.9,439.1 378.2,437.5 379.0,437.2 380.8,437.2 381.6,436.3 383.4,436.9 384.2,437.9 386.0,436.6 387.3,439.1 388.6,438.0 389.9,438.6 391.2,441.1 392.5,438.8 393.8,441.0 395.1,438.9 396.4,439.7 397.7,439.8 399.0,436.6 400.3,436.8 401.6,438.6 402.9,439.1 404.2,440.2 405.4,438.4 406.7,438.5 408.0,440.5 409.3,442.0 410.6,440.0 411.9,439.6 413.2,438.1 414.5,440.2 415.4,439.6 417.1,436.9 418.9,439.0 419.7,437.8 421.0,437.3 422.3,440.1 423.6,442.8 424.9,440.1 426.2,440.4 427.5,439.4 428.8,443.1 430.1,440.7 431.4,439.6 432.7,440.5 434.0,439.3 435.3,439.6 436.6,439.6 437.9,438.2 438.8,439.3 440.5,438.1 441.8,439.2 443.1,439.8 444.4,439.3 445.7,439.5 447.0,440.9 448.3,439.8 449.6,438.7 450.9,440.3 452.2,441.6 453.5,439.7 454.8,440.9 456.1,440.9 457.4,440.9 458.7,442.1 460.0,440.2 461.3,440.8 462.6,440.3 463.9,438.8 465.2,438.5 466.5,440.1 467.8,443.3 469.1,441.8 470.4,442.1 471.7,439.7 473.5,439.8 474.3,439.2 475.6,439.5 476.9,439.7 478.2,439.6 479.5,440.9 480.8,439.6 482.1,440.8 483.4,442.2 484.7,441.0 486.0,438.6 487.3,440.4 488.6,443.0 489.9,439.7 490.8,440.5 492.5,440.0 493.8,441.2 495.1,440.3 496.4,438.6 497.7,441.1 499.0,440.1 500.3,440.2 501.6,441.8 502.9,440.9 504.2,440.1 505.5,441.7 506.8,439.7 508.1,441.3" fill="none" stroke="#dc2184" stroke-width="1.6" stroke-linejoin="round"/>
<polyline points="300.2,439.3 301.5,438.9 302.8,440.2 304.1,437.1 305.4,440.7 306.7,439.7 308.0,438.0 308.9,438.8 310.6,437.7 311.9,439.5 313.2,435.9 314.1,438.0 315.8,438.1 316.7,437.9 318.4,437.9 319.3,438.2 321.0,436.5 322.3,438.3 323.6,438.0 324.5,440.2 326.2,439.2 327.5,439.5 328.8,438.9 330.1,438.9 331.4,439.1 332.8,439.2 334.3,434.5 335.2,431.2 336.4,433.7 338.0,436.2 339.2,437.7 340.0,438.6 341.8,439.8 343.1,436.5 344.4,437.2 345.7,436.8 347.0,438.8 348.3,441.0 349.6,441.7 350.9,441.0 352.2,439.9 353.5,440.3 354.8,440.2 356.1,439.0 357.4,442.5 358.7,438.4 360.0,439.7 361.3,439.7 362.6,442.0 363.9,440.1 365.2,441.6 366.5,439.7 367.8,439.4 369.5,439.9 370.4,440.0 371.7,440.1 373.0,440.0 374.3,438.3 375.6,438.8 376.9,438.7 378.2,435.6 379.0,438.4 380.8,437.8 381.6,437.5 383.4,440.4 384.2,439.0 386.0,437.7 387.3,440.1 388.6,440.9 389.9,439.8 391.2,439.2 392.5,438.2 393.8,439.4 395.1,440.5 396.4,439.1 397.7,440.9 399.0,442.1 400.3,441.9 401.6,441.0 402.9,440.9 404.2,440.5 405.4,440.3 406.7,437.3 408.0,438.9 409.3,442.6 410.6,442.4 411.9,440.1 413.2,440.8 414.5,437.2 415.4,439.6 417.1,437.7 418.9,439.6 419.7,439.9 421.0,439.1 422.3,439.9 423.6,439.5 424.9,440.6 426.2,443.5 427.5,440.3 428.8,437.9 430.1,440.9 431.4,441.2 432.7,439.5 434.0,440.8 435.3,440.4 436.6,440.7 437.9,439.9 438.8,440.6 440.5,438.2 441.8,439.9 443.1,440.9 444.4,442.4 445.7,440.9 447.0,441.7 448.3,440.1 449.6,439.7 450.9,437.2 452.2,440.8 453.5,440.7 454.8,439.3 456.1,441.3 457.4,440.5 458.7,438.2 460.0,440.1 461.3,440.8 462.6,439.3 463.9,440.1 465.2,440.4 466.5,439.8 467.8,441.6 469.1,438.9 470.4,440.9 471.7,441.1 473.5,441.3 474.3,444.3 475.6,443.8 476.9,442.0 478.2,441.3 479.5,439.8 480.8,437.7 482.1,439.5 483.4,441.1 484.7,442.0 486.0,439.7 487.3,441.6 488.6,441.5 489.9,439.7 490.8,441.2 492.5,441.5 493.8,441.2 495.1,443.2 496.4,441.9 497.7,441.2 499.0,440.9 500.3,441.7 501.6,444.0 502.9,443.0 504.2,440.7 505.5,442.1 506.8,442.7 508.1,441.3" fill="none" stroke="#9330d8" stroke-width="1.6" stroke-linejoin="round"/>
<polyline points="300.2,439.0 301.5,439.6 302.8,438.2 304.1,439.1 305.4,440.0 306.7,440.7 308.0,438.0 308.9,438.2 310.6,438.8 311.9,439.0 313.2,440.7 314.1,437.1 315.8,435.5 316.7,433.7 318.4,434.7 319.3,436.9 321.0,437.9 322.3,436.9 323.6,438.4 324.5,438.5 326.2,440.0 327.5,440.0 328.8,440.7 330.1,437.7 331.4,437.8 332.8,438.1 334.3,433.5 335.2,424.3 336.4,428.2 338.0,435.0 339.2,436.6 340.0,437.4 341.8,435.9 343.1,438.7 344.4,437.5 345.7,437.1 347.0,437.9 348.3,437.2 349.6,436.6 350.9,438.0 352.2,438.6 353.5,437.5 354.8,438.0 356.1,438.0 357.4,436.1 358.7,437.6 360.0,438.6 361.3,440.3 362.6,438.7 363.9,438.2 365.2,437.9 366.5,437.9 367.8,437.8 369.5,438.7 370.4,438.5 371.7,437.8 373.0,439.0 374.3,439.6 375.6,439.5 376.9,438.0 378.2,439.9 379.0,438.0 380.8,436.2 381.6,435.0 383.4,437.5 384.2,437.7 386.0,437.7 387.3,438.5 388.6,438.0 389.9,438.3 391.2,439.6 392.5,439.0 393.8,439.6 395.1,436.5 396.4,438.3 397.7,439.5 399.0,440.7 400.3,439.4 401.6,438.6 402.9,439.0 404.2,439.9 405.4,440.8 406.7,440.6 408.0,439.1 409.3,439.8 410.6,439.1 411.9,436.6 413.2,440.3 414.5,439.4 415.4,438.5 417.1,437.1 418.9,438.2 419.7,438.5 421.0,438.2 422.3,437.8 423.6,436.8 424.9,439.1 426.2,439.7 427.5,440.6 428.8,440.8 430.1,437.2 431.4,439.1 432.7,441.3 434.0,438.9 435.3,437.0 436.6,439.9 437.9,439.7 438.8,440.1 440.5,442.2 441.8,440.2 443.1,440.9 444.4,441.2 445.7,439.8 447.0,439.0 448.3,439.6 449.6,438.0 450.9,439.8 452.2,440.0 453.5,438.5 454.8,436.6 456.1,438.4 457.4,437.8 458.7,439.1 460.0,441.1 461.3,438.3 462.6,439.3 463.9,437.0 465.2,439.0 466.5,442.0 467.8,439.1 469.1,439.3 470.4,440.4 471.7,439.9 473.5,440.0 474.3,439.6 475.6,441.9 476.9,440.5 478.2,439.5 479.5,441.3 480.8,438.9 482.1,439.8 483.4,442.4 484.7,438.8 486.0,440.0 487.3,440.1 488.6,440.3 489.9,438.0 490.8,440.0 492.5,440.9 493.8,441.1 495.1,439.7 496.4,439.3 497.7,440.8 499.0,439.3 500.3,440.7 501.6,440.2 502.9,439.6 504.2,439.8 505.5,439.9 506.8,439.9 508.1,440.5" fill="none" stroke="#9c3636" stroke-width="1.6" stroke-linejoin="round"/>
<polyline points="300.2,439.6 301.5,439.7 302.8,437.6 304.1,440.7 305.4,438.5 306.7,439.3 308.0,437.7 308.9,438.7 310.6,438.5 311.9,437.5 313.2,438.2 314.1,437.5 315.8,437.0 316.7,436.0 318.4,436.7 319.3,438.1 321.0,438.1 322.3,438.1 323.6,438.8 324.5,438.6 326.2,437.5 327.5,440.5 328.8,437.9 330.1,439.1 331.4,438.9 332.8,438.7 334.3,434.1 335.2,431.5 336.4,433.9 338.0,435.8 339.2,437.3 340.0,438.5 341.8,439.3 343.1,438.2 344.4,437.8 345.7,439.9 347.0,439.1 348.3,441.0 349.6,439.6 350.9,438.4 352.2,439.2 353.5,436.7 354.8,438.2 356.1,440.3 357.4,439.3 358.7,440.3 360.0,439.2 361.3,439.6 362.6,439.6 363.9,442.7 365.2,441.4 366.5,439.1 367.8,438.7 369.5,439.2 370.4,439.1 371.7,438.2 373.0,437.9 374.3,438.2 375.6,437.4 376.9,437.3 378.2,438.9 379.0,438.1 380.8,435.9 381.6,435.8 383.4,439.0 384.2,438.7 386.0,438.4 387.3,441.6 388.6,441.3 389.9,440.7 391.2,437.4 392.5,437.7 393.8,439.4 395.1,438.4 396.4,438.8 397.7,441.2 399.0,440.6 400.3,438.8 401.6,440.0 402.9,437.3 404.2,439.9 405.4,440.6 406.7,440.3 408.0,439.8 409.3,439.7 410.6,438.1 411.9,436.7 413.2,439.1 414.5,441.2 415.4,439.5 417.1,437.1 418.9,438.4 419.7,438.0 421.0,439.0 422.3,436.1 423.6,440.0 424.9,441.2 426.2,438.2 427.5,438.5 428.8,439.5 430.1,441.2 431.4,439.8 432.7,439.5 434.0,440.7 435.3,440.1 436.6,441.8 437.9,439.3 438.8,440.5 440.5,439.5 441.8,441.0 443.1,441.6 444.4,440.7 445.7,441.2 447.0,439.7 448.3,441.1 449.6,440.3 450.9,439.4 452.2,439.0 453.5,439.0 454.8,440.2 456.1,439.4 457.4,439.8 458.7,441.0 460.0,440.2 461.3,438.1 462.6,441.7 463.9,441.4 465.2,439.0 466.5,440.0 467.8,442.0 469.1,440.3 470.4,439.8 471.7,440.7 473.5,441.2 474.3,441.4 475.6,441.5 476.9,439.4 478.2,441.6 479.5,443.2 480.8,441.0 482.1,441.1 483.4,439.5 484.7,443.3 486.0,441.8 487.3,439.9 488.6,440.9 489.9,440.7 490.8,441.1 492.5,439.3 493.8,441.9 495.1,441.3 496.4,441.1 497.7,441.1 499.0,440.3 500.3,441.0 501.6,441.0 502.9,440.4 504.2,440.6 505.5,439.9 506.8,441.8 508.1,440.4" fill="none" stroke="#1c1cc8" stroke-width="1.6" stroke-linejoin="round"/>
<polyline points="300.2,439.3 301.5,439.7 302.8,438.8 304.1,440.7 305.4,439.7 306.7,435.8 308.0,439.3 308.9,438.7 310.6,438.0 311.9,440.2 313.2,438.1 314.1,436.7 315.8,436.0 316.7,436.0 318.4,436.7 319.3,437.5 321.0,437.7 322.3,438.1 323.6,438.7 324.5,439.1 326.2,437.3 327.5,437.9 328.8,437.7 330.1,438.0 331.4,438.4 332.8,438.3 334.3,433.7 335.2,434.5 336.4,435.8 338.0,435.4 339.2,436.8 340.0,437.8 341.8,436.8 343.1,438.6 344.4,437.1 345.7,440.6 347.0,440.1 348.3,438.7 349.6,439.2 350.9,438.3 352.2,439.5 353.5,440.9 354.8,441.0 356.1,439.3 357.4,437.3 358.7,439.8 360.0,439.9 361.3,440.3 362.6,438.5 363.9,438.2 365.2,438.2 366.5,439.8 367.8,439.7 369.5,439.5 370.4,439.9 371.7,439.4 373.0,438.4 374.3,440.4 375.6,437.3 376.9,437.6 378.2,435.7 379.0,437.2 380.8,435.8 381.6,435.2 383.4,436.3 384.2,438.1 386.0,437.1 387.3,437.8 388.6,437.9 389.9,438.9 391.2,438.6 392.5,439.5 393.8,439.9 395.1,438.7 396.4,437.8 397.7,438.4 399.0,440.5 400.3,439.8 401.6,440.0 402.9,439.8 404.2,439.8 405.4,440.2 406.7,439.1 408.0,439.5 409.3,439.2 410.6,439.5 411.9,440.0 413.2,439.5 414.5,440.5 415.4,438.7 417.1,436.6 418.9,438.8 419.7,437.7 421.0,439.6 422.3,437.9 423.6,437.7 424.9,438.4 426.2,440.0 427.5,439.0 428.8,439.6 430.1,440.2 431.4,439.4 432.7,439.0 434.0,440.2 435.3,439.8 436.6,435.8 437.9,439.7 438.8,439.6 440.5,439.8 441.8,440.4 443.1,439.3 444.4,441.1 445.7,442.0 447.0,440.1 448.3,439.4 449.6,440.0 450.9,438.6 452.2,439.8 453.5,439.5 454.8,441.2 456.1,439.3 457.4,439.8 458.7,439.9 460.0,439.3 461.3,440.4 462.6,439.6 463.9,439.7 465.2,438.7 466.5,440.8 467.8,440.4 469.1,440.1 470.4,440.7 471.7,441.4 473.5,440.2 474.3,441.7 475.6,442.0 476.9,440.7 478.2,440.4 479.5,441.1 480.8,441.1 482.1,441.6 483.4,440.0 484.7,439.9 486.0,438.5 487.3,440.6 488.6,439.9 489.9,440.6 490.8,440.5 492.5,441.9 493.8,438.0 495.1,439.1 496.4,439.6 497.7,440.2 499.0,441.6 500.3,442.2 501.6,442.2 502.9,440.3 504.2,441.3 505.5,440.9 506.8,440.5 508.1,440.6" fill="none" stroke="#1d661d" stroke-width="1.6" stroke-linejoin="round"/>
<rect x="291.9" y="270.3" width="223.7" height="181.0" fill="none" stroke="#222" stroke-width="1.1"/>
<line x1="287.9" y1="444.8" x2="291.9" y2="444.8" stroke="#222" stroke-width="1"/>
<text transform="translate(284.6,444.8) rotate(-90)" text-anchor="middle" font-size="8.7">0.0</text>
<line x1="287.9" y1="402.8" x2="291.9" y2="402.8" stroke="#222" stroke-width="1"/>
<text transform="translate(284.6,402.8) rotate(-90)" text-anchor="middle" font-size="8.7">0.5</text>
<line x1="287.9" y1="360.8" x2="291.9" y2="360.8" stroke="#222" stroke-width="1"/>
<text transform="translate(284.6,360.8) rotate(-90)" text-anchor="middle" font-size="8.7">1.0</text>
<line x1="287.9" y1="318.8" x2="291.9" y2="318.8" stroke="#222" stroke-width="1"/>
<text transform="translate(284.6,318.8) rotate(-90)" text-anchor="middle" font-size="8.7">1.5</text>
<line x1="287.9" y1="276.8" x2="291.9" y2="276.8" stroke="#222" stroke-width="1"/>
<text transform="translate(284.6,276.8) rotate(-90)" text-anchor="middle" font-size="8.7">2.0</text>
<line x1="300.2" y1="451.3" x2="300.2" y2="455.3" stroke="#222" stroke-width="1"/>
<text x="300.2" y="464.4" text-anchor="middle" font-size="8.7">−20</text>
<line x1="334.9" y1="451.3" x2="334.9" y2="455.3" stroke="#222" stroke-width="1"/>
<text x="334.9" y="464.4" text-anchor="middle" font-size="8.7">TSS</text>
<line x1="369.5" y1="451.3" x2="369.5" y2="455.3" stroke="#222" stroke-width="1"/>
<text x="369.5" y="464.4" text-anchor="middle" font-size="8.7">20</text>
<line x1="404.2" y1="451.3" x2="404.2" y2="455.3" stroke="#222" stroke-width="1"/>
<text x="404.2" y="464.4" text-anchor="middle" font-size="8.7">40</text>
<line x1="438.8" y1="451.3" x2="438.8" y2="455.3" stroke="#222" stroke-width="1"/>
<text x="438.8" y="464.4" text-anchor="middle" font-size="8.7">60</text>
<line x1="473.5" y1="451.3" x2="473.5" y2="455.3" stroke="#222" stroke-width="1"/>
<text x="473.5" y="464.4" text-anchor="middle" font-size="8.7">80</text>
<line x1="508.1" y1="451.3" x2="508.1" y2="455.3" stroke="#222" stroke-width="1"/>
<text x="508.1" y="464.4" text-anchor="middle" font-size="8.7">100</text>
<line x1="456.9" y1="282.2" x2="473.6" y2="282.2" stroke="#dc2184" stroke-width="1.3"/>
<text x="481.1" y="285.1" font-size="8.4">ML−2</text>
<line x1="456.9" y1="292.4" x2="473.6" y2="292.4" stroke="#9330d8" stroke-width="1.3"/>
<text x="481.1" y="295.3" font-size="8.4">MV4;11</text>
<line x1="456.9" y1="302.7" x2="473.6" y2="302.7" stroke="#9c3636" stroke-width="1.3"/>
<text x="481.1" y="305.6" font-size="8.4">THP−1</text>
<line x1="456.9" y1="312.9" x2="473.6" y2="312.9" stroke="#1c1cc8" stroke-width="1.3"/>
<text x="481.1" y="315.8" font-size="8.4">HL60</text>
<line x1="456.9" y1="323.2" x2="473.6" y2="323.2" stroke="#1d661d" stroke-width="1.3"/>
<text x="481.1" y="326.1" font-size="8.4">U937</text>
<text x="403.8" y="475.2" text-anchor="middle" font-size="10">Position (kb)</text>
<polygon points="98.4,105.1 108.6,102.7 104.6,101.5 110.9,95.4 108.7,93.0 102.3,99.1 101.2,95.0" fill="#000"/>
<polygon points="95.5,167.6 105.7,165.3 101.7,164.0 107.9,158.2 105.7,155.8 99.5,161.6 98.4,157.6" fill="#000"/>
<polygon points="96.3,177.7 106.4,175.2 102.5,174.0 108.4,168.3 106.0,165.9 100.2,171.6 99.1,167.6" fill="#000"/>
<polygon points="358.2,104.9 368.4,102.8 364.5,101.5 370.8,95.8 368.6,93.4 362.3,99.0 361.4,94.9" fill="#000"/>
<polygon points="357.8,128.4 368.0,126.3 364.1,124.9 370.2,119.3 368.0,116.9 361.9,122.5 360.9,118.4" fill="#000"/>
<polygon points="359.4,139.7 369.6,137.4 365.6,136.1 371.4,130.7 369.2,128.3 363.4,133.7 362.4,129.7" fill="#000"/>
<circle cx="347.5" cy="193.4" r="1.8" fill="#000"/>
<circle cx="342.5" cy="198.3" r="1.8" fill="#000"/>
<circle cx="347.7" cy="205.2" r="1.8" fill="#000"/>
<circle cx="342.5" cy="210.4" r="1.8" fill="#000"/>
<polygon points="349.3,196.9 358.3,194.1 355.9,203.5" fill="#000"/>
<polygon points="351.1,185.1 359.4,181.4 355.8,191.4" fill="#000"/>
</svg></body></html>
